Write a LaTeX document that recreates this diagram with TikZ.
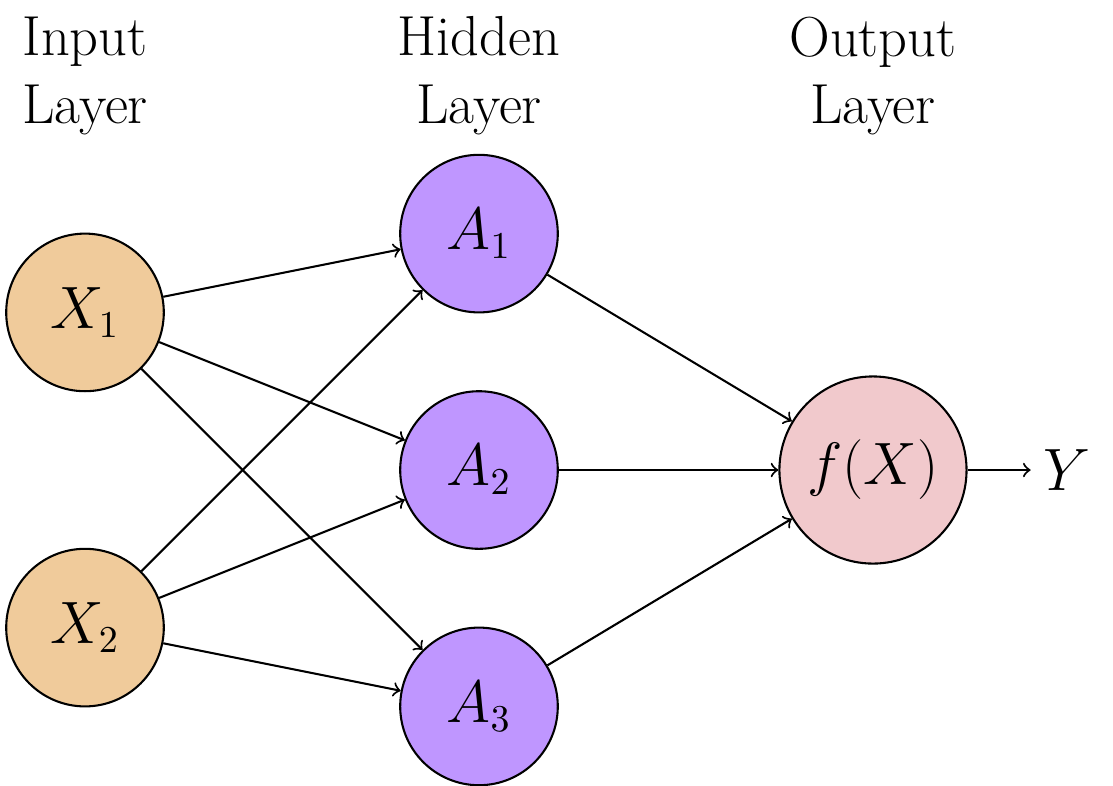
\documentclass[tikz,border=0pt]{standalone}
\usepackage{tikz}
\usetikzlibrary{positioning}
\usepackage{xcolor}
\definecolor{inputfill}{RGB}{240,203,155}
\definecolor{hiddenfill}{RGB}{191,150,255}
\definecolor{outputfill}{RGB}{241,201,204}

\begin{document}
\begin{tikzpicture}[
  font=\fontsize{16.3}{19.6}\selectfont,
  semithick,
  neuron/.style={circle, draw, minimum size=1.6cm, inner sep=0pt},
  inneuron/.style={neuron, fill=inputfill},
  hidneuron/.style={neuron, fill=hiddenfill},
  outneuron/.style={neuron, fill=outputfill, minimum size=1.9cm},
  layerlabel/.style={align=center}
]
  \useasboundingbox (-0.863,-3.208) rectangle (10.437,4.772);
  % layer labels
  \node[layerlabel] (inlabel) at (0,4) {Input\\Layer};
  \node[layerlabel] (hidlabel) at (4,4) {Hidden\\Layer};
  \node[layerlabel] (outlabel) at (8,4) {Output\\Layer};
  % input layer
  \node[inneuron] (X1) at (0,1.6) {$X_1$};
  \node[inneuron] (X2) at (0,-1.6) {$X_2$};
  % hidden layer
  \node[hidneuron] (A1) at (4,2.4) {$A_1$};
  \node[hidneuron] (A2) at (4,0) {$A_2$};
  \node[hidneuron] (A3) at (4,-2.4) {$A_3$};
  % output layer
  \node[outneuron] (out) at (8,0) {$f(X)$};
  \node (Y) [right=0.64cm of out] {$Y$};
  % connections
  \foreach \i in {1,2}
    \foreach \j in {1,2,3}
      \draw[->] (X\i) -- (A\j);
  \foreach \j in {1,2,3}
    \draw[->] (A\j) -- (out);
  \draw[->] (out) -- (Y);
\end{tikzpicture}
\end{document}
